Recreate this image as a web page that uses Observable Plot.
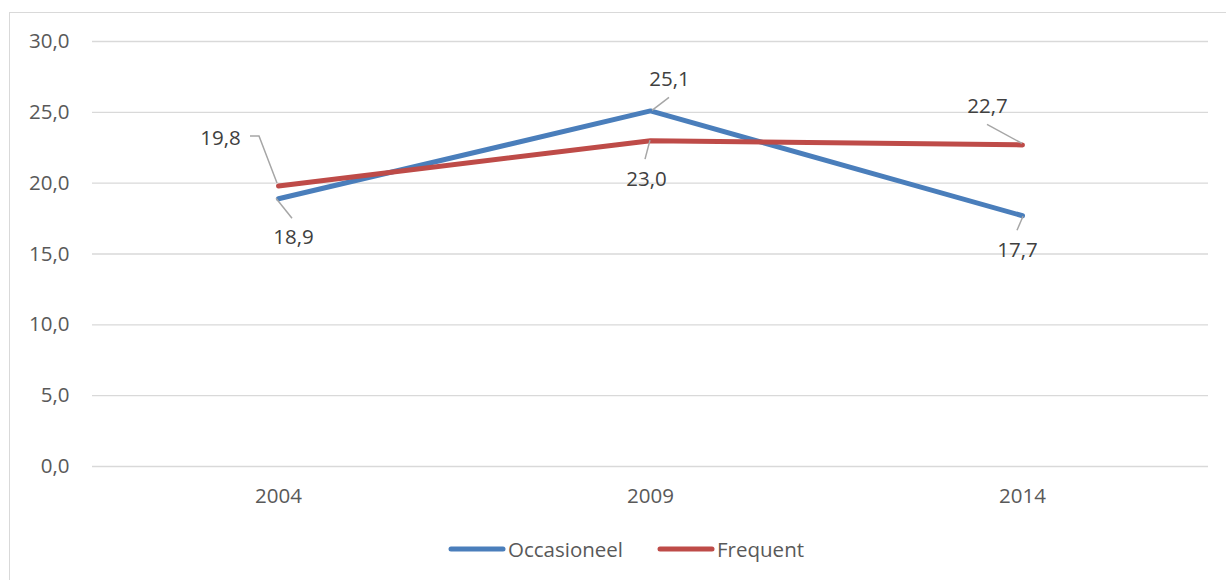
<!DOCTYPE html>
<html>
<head>
<meta charset="utf-8">
<script src="https://cdn.jsdelivr.net/npm/d3@7"></script>
<script src="https://cdn.jsdelivr.net/npm/@observablehq/plot@0.6"></script>
<style>
  html, body { margin: 0; padding: 0; background: #fff; overflow: hidden; }
  #frame { position: absolute; left: 9px; top: 12px; width: 1300px; height: 640px; border: 1px solid #d9d9d9; }
  #chart { position: absolute; left: 0; top: 0; }
  #legend { position: absolute; left: 438px; top: 522px; display: flex; align-items: center;
            font-family: "Open Sans", sans-serif; font-size: 20.5px; color: #595959; }
  .item { display: flex; align-items: center; margin-right: 34px; }
  .item svg { display: block; margin-right: 2px; }
</style>
</head>
<body>
<div id="frame">
  <div id="chart"></div>
  <div id="legend"></div>
</div>
<script>
const years = ["2004", "2009", "2014"];
const seriesNames = ["Occasioneel", "Frequent"];
const occasioneel = [18.9, 25.1, 17.7];
const frequent = [19.8, 23.0, 22.7];
const yTicks = [0, 5, 10, 15, 20, 25, 30];

const colors = { Occasioneel: "#4a7ebb", Frequent: "#be4b48" };

const rows = [];
years.forEach((yr, i) => {
  rows.push({ year: yr, series: "Occasioneel", value: occasioneel[i] });
  rows.push({ year: yr, series: "Frequent", value: frequent[i] });
});

// label placement (pixel offsets from the data point), Excel-style
const labelStyle = {
  "Frequent|2004":    { dx: -58, dy: -47.5, leader: [[-28, -49.5], [-19, -49.5], [-1, -2.5]] },
  "Occasioneel|2004": { dx: 15,  dy: 39,    leader: [[14, 20], [-2, 0]] },
  "Occasioneel|2009": { dx: 19,  dy: -31,   leader: [[19, -13], [2, 0]] },
  "Frequent|2009":    { dx: -4,  dy: 39,    leader: [[-5, 19], [0, 0]] },
  "Frequent|2014":    { dx: -35, dy: -38,   leader: [[-35, -20], [0, -1]] },
  "Occasioneel|2014": { dx: -5,  dy: 35,    leader: [[-5, 15], [1, 1]] }
};

const fmt = d => d.toFixed(1).replace(".", ",");
const FONT = "Open Sans, sans-serif";

function leaders(index, scales) {
  const g = d3.create("svg:g").attr("fill", "none").attr("stroke", "#a6a6a6").attr("stroke-width", 1.5);
  for (const r of rows) {
    const st = labelStyle[r.series + "|" + r.year];
    const px = scales.x(r.year), py = scales.y(r.value);
    g.append("polyline")
      .attr("points", st.leader.map(([a, b]) => `${px + a},${py + b}`).join(" "));
  }
  return g.node();
}

const labelMarks = rows.map(r => {
  const st = labelStyle[r.series + "|" + r.year];
  return Plot.text([r], {
    x: "year", y: "value", text: d => fmt(d.value),
    dx: st.dx, dy: st.dy, fill: "#404040",
    fontSize: 20.5, fontFamily: FONT, textAnchor: "middle", lineAnchor: "middle"
  });
});

const chart = Plot.plot({
  width: 1216,
  height: 510,
  marginLeft: 82,
  marginRight: 18,
  marginTop: 28,
  marginBottom: 57,
  style: { fontFamily: FONT, fontSize: "20.5px", color: "#595959", background: "transparent", overflow: "visible" },
  x: { type: "point", domain: years, padding: 0.5, label: null },
  y: { domain: [0, 30], ticks: yTicks, label: null },
  marks: [
    Plot.gridY(yTicks, { stroke: "#d9d9d9", strokeOpacity: 1, strokeWidth: 1.3 }),
    Plot.axisY(yTicks, { tickSize: 0, tickPadding: 23, tickFormat: fmt, fontSize: 20.5, fill: "#595959", label: null }),
    Plot.axisX({ tickSize: 0, tickPadding: 22, fontSize: 20.5, fill: "#595959", label: null }),
    Plot.line(rows.filter(d => d.series === "Occasioneel"), {
      x: "year", y: "value", stroke: colors.Occasioneel, strokeWidth: 5, strokeLinecap: "round", strokeLinejoin: "round"
    }),
    Plot.line(rows.filter(d => d.series === "Frequent"), {
      x: "year", y: "value", stroke: colors.Frequent, strokeWidth: 5, strokeLinecap: "round", strokeLinejoin: "round"
    }),
    leaders,
    ...labelMarks
  ]
});
document.getElementById("chart").appendChild(chart);

const legend = document.getElementById("legend");
seriesNames.forEach(name => {
  const item = document.createElement("div");
  item.className = "item";
  item.innerHTML = `<svg width="58" height="10"><line x1="3" y1="5" x2="55" y2="5" stroke="${colors[name]}" stroke-width="5" stroke-linecap="round"/></svg><span>${name}</span>`;
  legend.appendChild(item);
});
</script>
</body>
</html>
